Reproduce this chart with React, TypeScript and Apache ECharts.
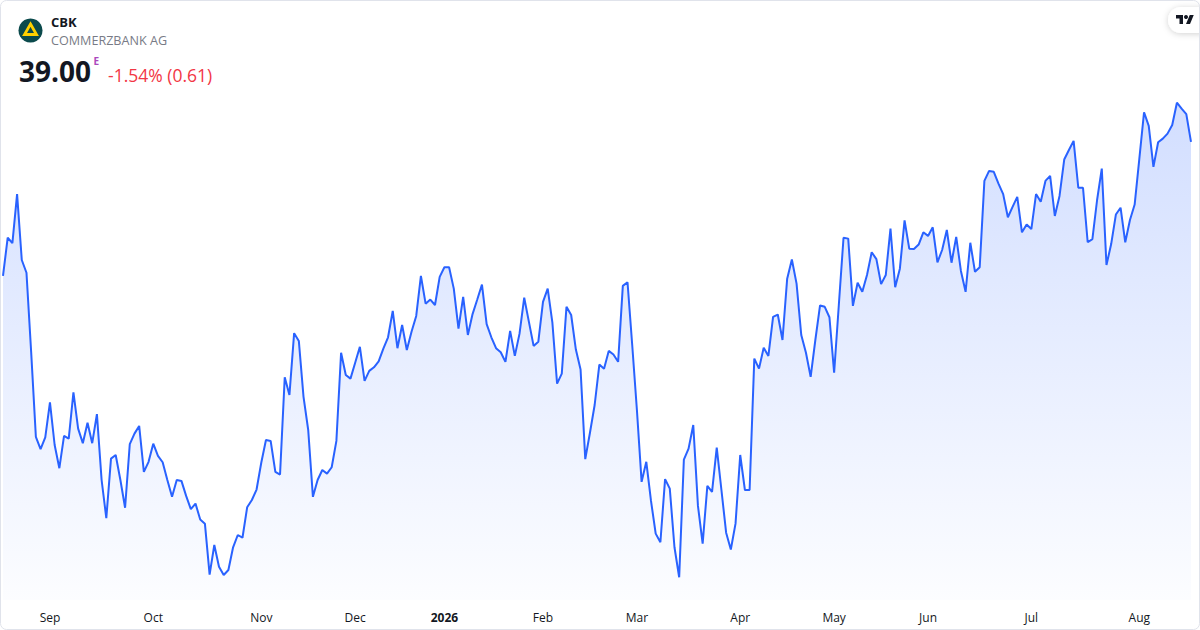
import React, { useEffect, useRef } from "react";
import * as echarts from "echarts";

const START_DATE = "2025-08-18";
const HOLIDAYS = [
  "2025-12-24", "2025-12-25", "2025-12-26", "2025-12-31",
  "2026-01-01", "2026-04-03", "2026-04-06", "2026-05-01",
];
const MONTH_NAMES = ["Jan", "Feb", "Mar", "Apr", "May", "Jun", "Jul", "Aug", "Sep", "Oct", "Nov", "Dec"];

const PRICES = [
  36.05, 36.89, 36.77, 37.85, 36.40, 36.12, 34.37, 32.51, 32.24, 32.50,
  33.27, 32.33, 31.82, 32.53, 32.47, 33.49, 32.69, 32.37, 32.82, 32.37,
  33.01, 31.56, 30.72, 32.03, 32.11, 31.56, 30.95, 32.35, 32.58, 32.75,
  31.74, 31.96, 32.36, 32.09, 31.95, 31.56, 31.19, 31.56, 31.54, 31.21,
  30.92, 31.04, 30.69, 30.60, 29.48, 30.13, 29.65, 29.47, 29.58, 30.08,
  30.35, 30.29, 30.96, 31.12, 31.35, 31.94, 32.44, 32.42, 31.74, 31.68,
  33.82, 33.43, 34.79, 34.62, 33.39, 32.66, 31.19, 31.56, 31.78, 31.70,
  31.84, 32.42, 34.36, 33.87, 33.79, 34.14, 34.49, 33.74, 33.96, 34.04,
  34.17, 34.45, 34.70, 35.28, 34.46, 34.97, 34.42, 34.82, 35.17, 36.05,
  35.44, 35.53, 35.41, 36.03, 36.24, 36.24, 35.77, 34.89, 35.59, 34.75,
  35.21, 35.53, 35.86, 34.99, 34.70, 34.46, 34.37, 34.16, 34.84, 34.29,
  34.78, 35.57, 35.04, 34.51, 34.60, 35.48, 35.77, 35.02, 33.68, 33.90,
  35.37, 35.19, 34.43, 33.99, 32.02, 32.60, 33.21, 34.10, 34.01, 34.40,
  34.32, 34.16, 35.83, 35.91, 34.53, 33.10, 31.52, 31.96, 31.10, 30.38,
  30.19, 31.58, 31.37, 30.08, 29.42, 32.01, 32.25, 32.77, 30.99, 30.16,
  31.43, 31.30, 32.27, 31.34, 30.40, 30.03, 30.60, 32.11, 31.34, 31.34,
  34.23, 34.01, 34.47, 34.29, 35.15, 35.20, 34.64, 35.99, 36.41, 35.88,
  34.75, 34.36, 33.83, 34.64, 35.40, 35.37, 35.14, 33.92, 35.41, 36.89,
  36.87, 35.39, 35.90, 35.70, 36.07, 36.57, 36.42, 35.87, 36.07, 37.09,
  35.80, 36.21, 37.27, 36.65, 36.64, 36.74, 37.01, 36.93, 37.12, 36.35,
  36.62, 37.06, 36.34, 36.91, 36.16, 35.70, 36.78, 36.14, 36.24, 38.14,
  38.36, 38.34, 38.08, 37.85, 37.34, 37.57, 37.79, 37.01, 37.18, 37.08,
  37.85, 37.68, 38.14, 38.25, 37.37, 37.81, 38.61, 38.82, 39.02, 37.99,
  37.99, 36.79, 36.86, 37.72, 38.41, 36.29, 36.75, 37.40, 37.55, 36.79,
  37.28, 37.62, 38.63, 39.65, 39.35, 38.45, 38.99, 39.07, 39.18, 39.37,
  39.86, 39.73, 39.61, 39.00,
];

const Y_MIN = 28.92;
const Y_MAX = 40.14;

function buildTradingDays(start: string, count: number, holidays: string[]): string[] {
  const out: string[] = [];
  const d = new Date(start + "T00:00:00Z");
  while (out.length < count) {
    const iso = d.toISOString().slice(0, 10);
    const wd = d.getUTCDay();
    if (wd !== 0 && wd !== 6 && holidays.indexOf(iso) < 0) out.push(iso);
    d.setUTCDate(d.getUTCDate() + 1);
  }
  return out;
}

const DATES = buildTradingDays(START_DATE, PRICES.length, HOLIDAYS);

const TV_PATH = "M14 22H7V11H0V4h14v18zM28 22h-8l7.5-18h8L28 22z";

let registered = false;
function registerShapes() {
  if (registered) return;
  registered = true;
  echarts.graphic.registerShape("tvlogo", echarts.graphic.extendPath(TV_PATH, {}) as any);
}

export default function App() {
  const ref = useRef<HTMLDivElement>(null);

  useEffect(() => {
    document.body.style.margin = "0";
    if (!ref.current) return;
    registerShapes();
    const chart = echarts.init(ref.current, undefined, { renderer: "svg" });
    const font = "'Open Sans', 'Noto Sans', sans-serif";

    const option: any = {
      animation: false,
      backgroundColor: "#ffffff",
      textStyle: { fontFamily: font },
      grid: { left: 3, right: 9, top: 90, bottom: 30 },
      xAxis: {
        type: "category",
        data: DATES,
        boundaryGap: false,
        axisLine: { show: false },
        axisTick: { show: false },
        splitLine: { show: false },
        axisLabel: {
          margin: 11,
          fontSize: 12,
          color: "#131722",
          fontFamily: font,
          interval: (idx: number) =>
            idx > 0 && DATES[idx].slice(5, 7) !== DATES[idx - 1].slice(5, 7),
          formatter: (val: string) => {
            const m = parseInt(val.slice(5, 7), 10);
            if (m === 1) return "{y|" + val.slice(0, 4) + "}";
            return MONTH_NAMES[m - 1];
          },
          rich: {
            y: { fontWeight: "bold", fontSize: 12, color: "#131722", fontFamily: font },
          },
        },
      },
      yAxis: {
        type: "value",
        min: Y_MIN,
        max: Y_MAX,
        show: false,
        splitLine: { show: false },
      },
      series: [
        {
          type: "line",
          data: PRICES,
          symbol: "none",
          lineStyle: { color: "#2962ff", width: 2 },
          itemStyle: { color: "#2962ff" },
          areaStyle: {
            color: new echarts.graphic.LinearGradient(0, 0, 0, 1, [
              { offset: 0, color: "rgba(41,98,255,0.30)" },
              { offset: 1, color: "rgba(41,98,255,0.02)" },
            ]),
          },
        },
      ],
      graphic: [
        {
          type: "rect",
          shape: { x: 0.5, y: 0.5, width: 1199, height: 629, r: 6 },
          style: { fill: "none", stroke: "#e0e3eb", lineWidth: 1 },
          silent: true,
          z: 100,
        },
        {
          type: "circle",
          shape: { cx: 30.5, cy: 30.5, r: 12 },
          style: { fill: "#0b4a4c" },
        },
        {
          type: "polygon",
          shape: { points: [[30.5, 24], [36.5, 34.5], [24.5, 34.5]] },
          style: { fill: "none", stroke: "#ffd000", lineWidth: 2.8, lineJoin: "miter" },
        },
        {
          type: "text",
          x: 51,
          y: 21.5,
          style: {
            text: "CBK",
            fill: "#131722",
            fontSize: 13,
            fontWeight: "bold",
            fontFamily: font,
            align: "left",
            verticalAlign: "middle",
          },
        },
        {
          type: "text",
          x: 51,
          y: 40.5,
          style: {
            text: "COMMERZBANK AG",
            fill: "#787b86",
            fontSize: 12.6,
            fontFamily: font,
            align: "left",
            verticalAlign: "middle",
          },
        },
        {
          type: "text",
          x: 19,
          y: 70.5,
          style: {
            text: "39.00",
            fill: "#131722",
            fontSize: 28,
            fontWeight: "bold",
            fontFamily: font,
            align: "left",
            verticalAlign: "middle",
          },
        },
        {
          type: "text",
          x: 93.5,
          y: 61,
          style: {
            text: "E",
            fill: "#ab47bc",
            fontSize: 10,
            fontWeight: "bold",
            fontFamily: font,
            align: "left",
            verticalAlign: "middle",
          },
        },
        {
          type: "text",
          x: 108,
          y: 74.5,
          style: {
            text: "-1.54% (0.61)",
            fill: "#f23645",
            fontSize: 17.5,
            fontFamily: font,
            align: "left",
            verticalAlign: "middle",
          },
        },
        {
          type: "rect",
          shape: { x: 1168, y: 7, width: 44, height: 26, r: 13 },
          style: {
            fill: "#ffffff",
            shadowBlur: 6,
            shadowColor: "rgba(0,0,0,0.18)",
            shadowOffsetY: 1,
          },
          z: 90,
        },
        {
          type: "tvlogo",
          x: 1176,
          y: 13,
          scaleX: 0.5,
          scaleY: 0.5,
          style: { fill: "#131722" },
          z: 91,
        },
        {
          type: "circle",
          shape: { cx: 1186, cy: 17, r: 2 },
          style: { fill: "#131722" },
          z: 91,
        },
      ],
    };

    chart.setOption(option);
    return () => chart.dispose();
  }, []);

  return (
    <div
      ref={ref}
      style={{ position: "absolute", left: 0, top: 0, width: 1200, height: 630 }}
    />
  );
}
